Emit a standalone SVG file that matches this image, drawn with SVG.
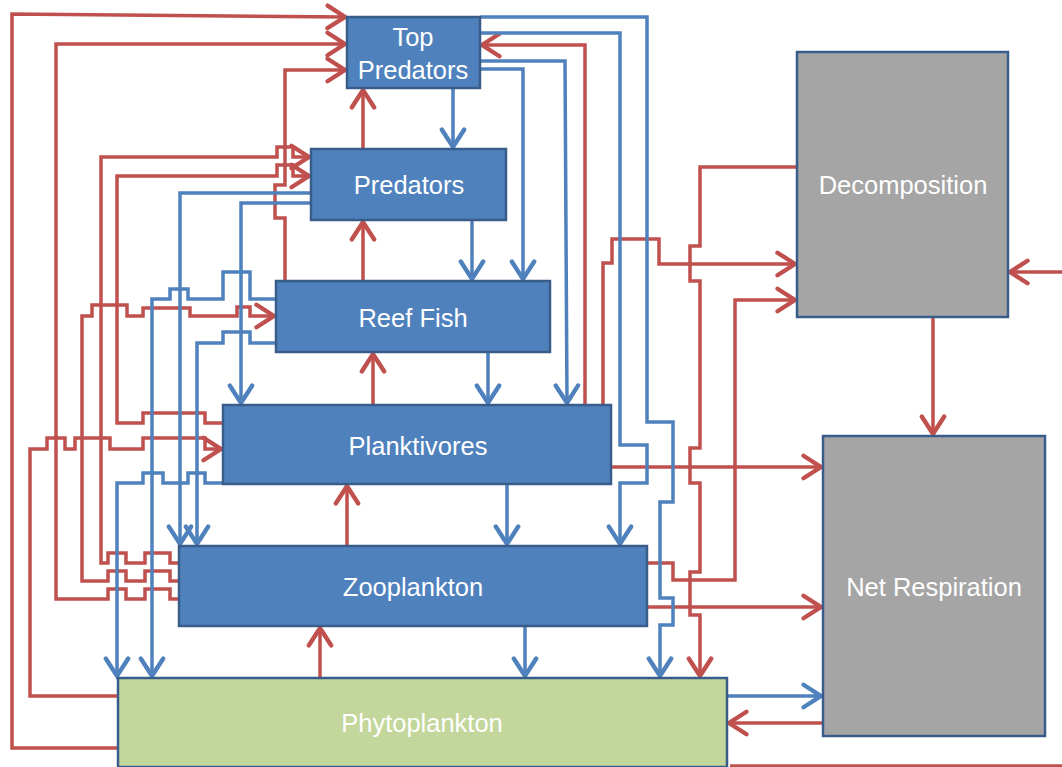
<svg xmlns="http://www.w3.org/2000/svg" width="1062" height="767" viewBox="0 0 1062 767">
<style>
.node rect{stroke:#385D8A;stroke-width:2.5}
.blue rect{fill:#4F81BD}
.green rect{fill:#C3D69B}
.gray rect{fill:#A5A5A5}
.node text{fill:#FFFFFF;font-family:"Liberation Sans",Arial,sans-serif;font-size:25.5px;text-anchor:middle}
.r,.b{fill:none;stroke-width:3.5;stroke-linejoin:miter}
.r{stroke:#C0504D}
.b{stroke:#4F81BD}
.r.a{marker-end:url(#ar)}
.b.a{marker-end:url(#ab)}
</style>
<defs>
<marker id="ar" markerUnits="userSpaceOnUse" markerWidth="30" markerHeight="30" viewBox="-18 -12 22 24" refX="0" refY="0" orient="auto" overflow="visible">
<path d="M-14,-9 L0,0 L-14,9" fill="none" stroke="#C0504D" stroke-width="3.5" stroke-linecap="round"/>
</marker>
<marker id="ab" markerUnits="userSpaceOnUse" markerWidth="30" markerHeight="30" viewBox="-18 -12 22 24" refX="0" refY="0" orient="auto" overflow="visible">
<path d="M-14,-9 L0,0 L-14,9" fill="none" stroke="#4F81BD" stroke-width="3.5" stroke-linecap="round"/>
</marker>
</defs>
<rect width="1062" height="767" fill="#FFFFFF"/>
<g id="connectors">
<path class="r a" d="M118,748 H12 V14 L345,17"/>
<path class="r a" d="M179,599 H170 V589 H145 V599 H126 V589 H108 V599 H56 V44 H345"/>
<path class="r a" d="M285,281 V218 H275 V185 H285 V70 H345"/>
<path class="r a" d="M179,563 H170 V553 H145 V563 H126 V553 H108 V563 H101 V157 H277 V147 H293 V157 H309"/>
<path class="r a" d="M223,423 H205 V413 H143 V423 H117 V176 H277 V165 H293 V176 H309"/>
<path class="r a" d="M179,581 H170 V571 H145 V581 H126 V571 H108 V581 H82 V316 H92 V305 H127 V316 H143 V308 H190 V316 H237 V307 H250 V316 H274"/>
<path class="r a" d="M118,696 H30 V449 H47 V438 H65 V449 H75 V438 H110 V449 H143 V438 H205 V449 H221"/>
<path class="r a" d="M363,281 V222"/>
<path class="r a" d="M363,149 V90"/>
<path class="r a" d="M373,405 V354"/>
<path class="r a" d="M347,546 V486"/>
<path class="r a" d="M320,678 V628"/>
<path class="r a" d="M585,405 V45 H482"/>
<path class="r a" d="M603,405 V263 H612 V239 H659 V264 H795"/>
<path class="r a" d="M797,167 H700 V246 H690 V281 H700 V448 H690 V483 H700 V572 H690 V615 H700 V676"/>
<path class="r a" d="M647,563 H673 V580 H735 V300 H795"/>
<path class="r a" d="M611,467 H821"/>
<path class="r a" d="M647,607 H821"/>
<path class="r a" d="M933,317 V434"/>
<path class="r a" d="M823,723 H729"/>
<path class="r" d="M730,766 H1062"/>
<path class="r a" d="M1062,272 H1010"/>
<path class="b a" d="M453,88 V147"/>
<path class="b a" d="M472,220 V279"/>
<path class="b a" d="M488,352 V403"/>
<path class="b a" d="M507,484 V544"/>
<path class="b a" d="M525,626 V676"/>
<path class="b a" d="M480,69 H523 V279"/>
<path class="b a" d="M480,61 H565 L567,403"/>
<path class="b a" d="M480,33 H620 V445 H647 V483 H620 V544"/>
<path class="b a" d="M480,17 H647 V422 H673 V502 H660 V598 H673 V625 H660 V676"/>
<path class="b a" d="M311,193 H180 V544"/>
<path class="b a" d="M311,203 H241 V403"/>
<path class="b a" d="M276,299 H250 V272 H223 V299 H188 V289 H170 V299 H152 V676"/>
<path class="b a" d="M276,343 H250 V332 H223 V343 H197 V544"/>
<path class="b a" d="M223,483 H205 V473 H188 V483 H163 V473 H143 V483 H117 V676"/>
<path class="b a" d="M727,696 H821"/>
</g>
<g id="top-predators" class="node blue"><rect x="347" y="17" width="133" height="71"/><text x="413" y="46">Top</text><text x="413" y="79">Predators</text></g>
<g id="predators" class="node blue"><rect x="311" y="149" width="195" height="71"/><text x="409" y="194">Predators</text></g>
<g id="reef-fish" class="node blue"><rect x="276" y="281" width="274" height="71"/><text x="413" y="327">Reef Fish</text></g>
<g id="planktivores" class="node blue"><rect x="223" y="405" width="388" height="79"/><text x="418" y="455">Planktivores</text></g>
<g id="zooplankton" class="node blue"><rect x="179" y="546" width="468" height="80"/><text x="413" y="596">Zooplankton</text></g>
<g id="phytoplankton" class="node green"><rect x="118" y="678" width="609" height="89"/><text x="422" y="732">Phytoplankton</text></g>
<g id="decomposition" class="node gray"><rect x="797" y="52" width="211" height="265"/><text x="903" y="194">Decomposition</text></g>
<g id="net-respiration" class="node gray"><rect x="823" y="436" width="222" height="300"/><text x="934" y="596">Net Respiration</text></g>
</svg>
